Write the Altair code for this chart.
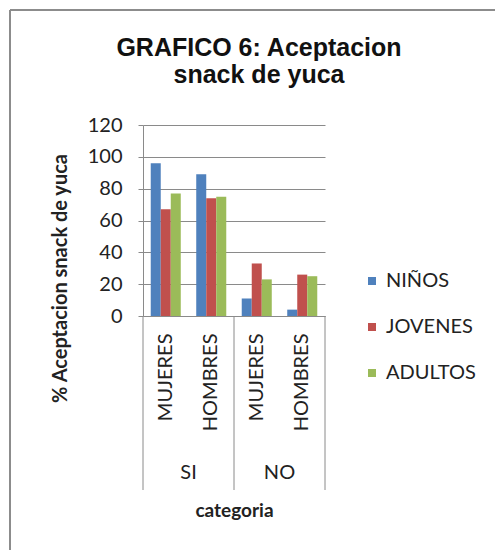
import altair as alt
import pandas as pd

# Survey groups and respondents
grupos = ["SI", "SI", "NO", "NO"]
sexos = ["MUJERES", "HOMBRES", "MUJERES", "HOMBRES"]
series = ["NIÑOS", "JOVENES", "ADULTOS"]

# % acceptance per age series
ninos = [96, 89, 11, 4]
jovenes = [67, 74, 33, 26]
adultos = [77, 75, 23, 25]

colores = ["#4F81BD", "#C0504D", "#9BBB59"]
ticks_y = [0, 20, 40, 60, 80, 100, 120]
grupos_unicos = ["SI", "NO"]
separadores = [0, 1, 2]
titulo = ["GRAFICO 6: Aceptacion", "snack de yuca"]

rows = []
for i, (g, s) in enumerate(zip(grupos, sexos)):
    for name, vals in zip(series, [ninos, jovenes, adultos]):
        rows.append({"cat": f"{g} {s}", "serie": name, "valor": vals[i]})
df = pd.DataFrame(rows)
cat_order = [f"{g} {s}" for g, s in zip(grupos, sexos)]

W, H = 182, 191
GRID = "#8a8a8a"
TXT = "#222222"
FONT = "Lato"
FS = 20

bars = alt.Chart(df).mark_bar().encode(
    x=alt.X(
        "cat:N", sort=cat_order,
        scale=alt.Scale(paddingInner=0.34, paddingOuter=0.17),
        axis=alt.Axis(
            title="categoria", labelExpr="split(datum.label, ' ')[1]",
            labelAngle=270, labelAlign="right", labelBaseline="middle",
            labelPadding=17, ticks=False, domainColor=GRID,
            labelFont=FONT, labelFontSize=FS, labelColor=TXT,
            titleFont=FONT, titleFontSize=19, titleFontWeight="bold",
            titleColor=TXT, titleY=194, titleBaseline="middle",
        ),
    ),
    xOffset=alt.XOffset("serie:N", sort=series,
                        scale=alt.Scale(paddingInner=0, paddingOuter=0)),
    y=alt.Y(
        "valor:Q", scale=alt.Scale(domain=[0, 120], nice=False),
        axis=alt.Axis(
            values=ticks_y, title="% Aceptacion snack de yuca",
            grid=True, gridColor=GRID, domainColor=GRID, tickColor=GRID,
            tickSize=5, labelPadding=16, labelFont=FONT, labelFontSize=FS,
            labelColor=TXT, titleFont=FONT, titleFontSize=20,
            titleFontWeight="bold", titleColor=TXT, titleX=-83, titleY=153,
            titleAlign="center", titleBaseline="middle",
        ),
    ),
    color=alt.Color(
        "serie:N", sort=series,
        scale=alt.Scale(domain=series, range=colores),
        legend=alt.Legend(
            title=None, orient="none", legendX=219, legendY=146,
            symbolType="square", symbolSize=64, symbolStrokeWidth=0,
            labelFont=FONT, labelFontSize=FS, labelColor=TXT,
            labelOffset=4, rowPadding=26,
        ),
    ),
)

group_labels = alt.Chart(pd.DataFrame({"g": grupos_unicos})).mark_text(
    font=FONT, fontSize=FS, color=TXT, baseline="middle"
).encode(
    x=alt.X("g:N", sort=grupos_unicos, axis=None,
            scale=alt.Scale(paddingInner=0, paddingOuter=0)),
    y=alt.value(348),
    text="g:N",
)

seps = alt.Chart(pd.DataFrame({"p": separadores})).mark_rule(
    color=GRID, strokeWidth=1
).encode(
    x=alt.X("p:Q", axis=None, scale=alt.Scale(domain=[0, 2], nice=False)),
    y=alt.value(H),
    y2=alt.value(H + 174),
)

# two-line chart heading, one text row per line
title_text = alt.Chart(pd.DataFrame({"t": titulo, "n": [0, 1]})).mark_text(
    font="Liberation Sans", fontSize=25, fontWeight="bold", color="#111111",
    baseline="alphabetic", align="center",
).encode(
    x=alt.value(116),
    y=alt.Y("n:Q", axis=None,
            scale=alt.Scale(domain=[0, 1], range=[-69, -42], zero=False, nice=False)),
    text="t:N",
)

frame_df = pd.DataFrame({"k": [0]})
border_left = alt.Chart(frame_df).mark_rule(color="#8c8c8c", strokeWidth=2).encode(
    x=alt.value(-133), y=alt.value(-115), y2=alt.value(440)
)
border_top = alt.Chart(frame_df).mark_rule(color="#8c8c8c", strokeWidth=2).encode(
    x=alt.value(-133), x2=alt.value(360), y=alt.value(-115)
)

chart = alt.layer(
    border_left, border_top, seps, bars, group_labels, title_text
).resolve_scale(
    x="independent", y="independent"
).properties(
    width=W, height=H,
    autosize=alt.AutoSizeParams(type="none"),
    padding={"left": 143, "top": 125, "right": 170, "bottom": 234},
    background="white",
).configure_view(strokeWidth=0)

chart.save("out.html", embed_options={"renderer": "svg", "actions": False})
